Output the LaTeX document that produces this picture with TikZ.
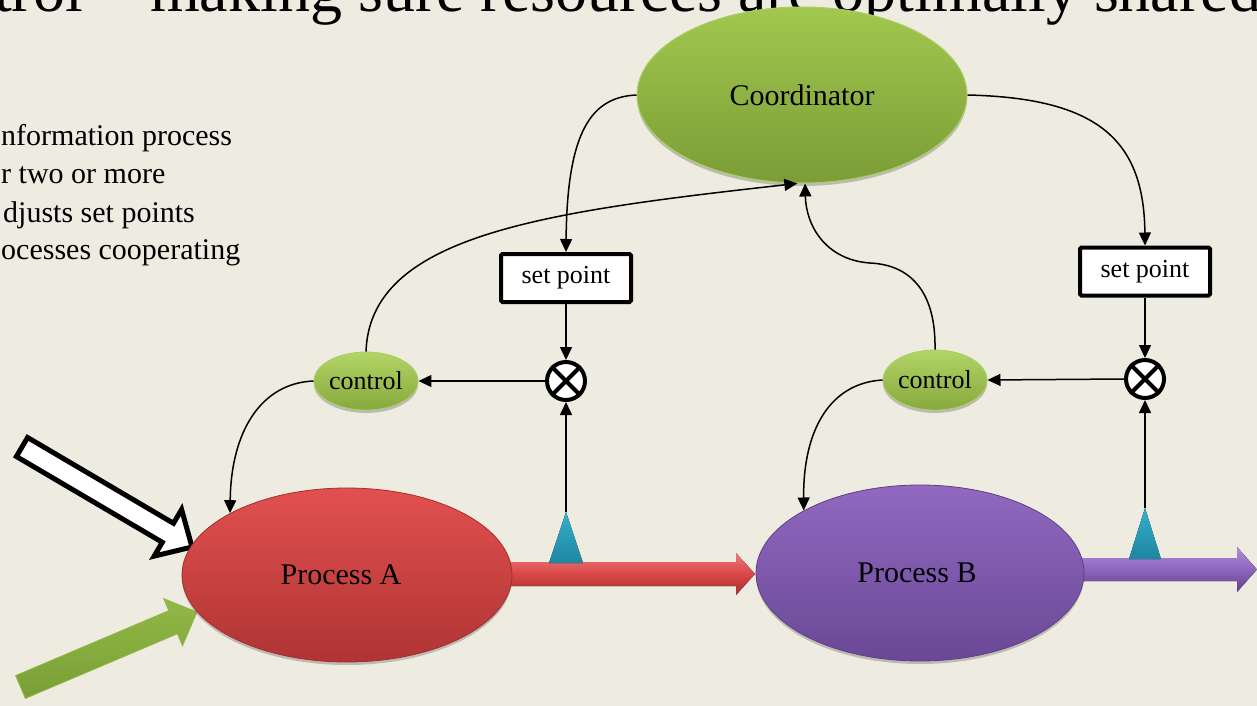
\documentclass[tikz,border=0pt]{standalone}
\usepackage{fontspec}
\setmainfont{Liberation Serif}
\usetikzlibrary{arrows.meta,shapes.geometric,shadows}

\definecolor{paper}{HTML}{EEEBE1}
\definecolor{greenhi}{HTML}{A2C84E}
\definecolor{greenlo}{HTML}{7B9C37}
\definecolor{greenrim}{HTML}{ABCF5F}
\definecolor{ctlhi}{HTML}{B3D466}
\definecolor{ctllo}{HTML}{86A93D}
\definecolor{redhi}{HTML}{E25050}
\definecolor{redlo}{HTML}{B03434}
\definecolor{redrim}{HTML}{A32E2E}
\definecolor{purphi}{HTML}{9169C0}
\definecolor{purplo}{HTML}{6A4896}
\definecolor{purprim}{HTML}{5E3F88}
\definecolor{barredhi}{HTML}{EE7A7A}
\definecolor{barredmid}{HTML}{D94747}
\definecolor{barredlo}{HTML}{A52F2F}
\definecolor{barpurphi}{HTML}{B08DDB}
\definecolor{barpurpmid}{HTML}{8C66BC}
\definecolor{barpurplo}{HTML}{5E3F88}
\definecolor{cyanhi}{HTML}{35B0CC}
\definecolor{cyanlo}{HTML}{1E86A1}
\definecolor{inhi}{HTML}{92B846}
\definecolor{inlo}{HTML}{7A9E36}

\newcommand{\titlesize}{\fontsize{64}{70}\selectfont}
\newcommand{\bodysize}{\fontsize{30}{36}\selectfont}
\newcommand{\labelsize}{\fontsize{26}{30}\selectfont}

\begin{document}
\begin{tikzpicture}[x=1pt,y=-1pt,
  conn/.style={line width=1.5pt,-{Triangle[length=13pt,width=12pt]}},
  softshadow/.style={drop shadow={shadow xshift=0pt,shadow yshift=-3pt,opacity=0.3,fill=black!70}},
  procblob/.style={ellipse,inner sep=0pt,softshadow,font=\bodysize},
  ctlblob/.style={ellipse,inner sep=0pt,softshadow,font=\labelsize,
    top color=ctlhi,bottom color=ctllo,draw=greenrim,line width=0.8pt,
    minimum width=95pt,minimum height=58pt},
  setbox/.style={rectangle,draw=black,line width=4pt,fill=white,rounded corners=1.5pt,
    font=\labelsize,minimum width=130pt,minimum height=48pt,inner sep=0pt},
  junction/.style={circle,draw=black,line width=4pt,fill=white,minimum size=38pt,inner sep=0pt},
  crossline/.style={line width=4pt},
  sensor/.style={top color=cyanhi,bottom color=cyanlo},
  plaintext/.style={anchor=base west,inner sep=0pt}]

% page and clipping
\useasboundingbox (0,0) rectangle (1257,706);
\fill[paper] (0,0) rectangle (1257,706);
\clip (0,0) rectangle (1257,706);

% heading and side text
\node[plaintext,font=\titlesize] (head1) at (-6,12) {trol};
\node[plaintext,font=\titlesize] (head2) at (150,12) {making sure resources are optimally shared};
\node[plaintext,font=\bodysize] (txt1) at (1,145) {nformation process};
\node[plaintext,font=\bodysize] (txt2) at (1,183) {r two or more};
\node[plaintext,font=\bodysize] (txt3) at (3,222) {djusts set points};
\node[plaintext,font=\bodysize] (txt4) at (1,259) {ocesses cooperating};

% flow bars between the processes
\fill[top color=barredhi,bottom color=barredlo,middle color=barredmid]
  (500,562) -- (736,562) -- (736,553) -- (755,574) -- (736,595) -- (736,586) -- (500,586) -- cycle;
\fill[top color=barpurphi,bottom color=barpurplo,middle color=barpurpmid]
  (1075,558) -- (1237,558) -- (1237,547) -- (1257,569.5) -- (1237,592) -- (1237,581) -- (1075,581) -- cycle;

% input arrows
\draw[line width=5pt,fill=white,line join=miter]
  (16.4,456.5) -- (27.6,437.5) -- (173.5,523.3) -- (181.6,509.5) -- (192,547)
  -- (154.2,556.1) -- (162.3,542.3) -- cycle;
\shade[top color=inhi,bottom color=inlo,draw=inhi,line width=0.8pt]
  (15.6,675.6) -- (168.8,610.6) -- (163.7,598.6) -- (197,612) -- (182.5,645.8)
  -- (177.4,633.8) -- (25.4,698.4) -- cycle;

% main nodes
\node[procblob,top color=greenhi,bottom color=greenlo,draw=greenrim,line width=1pt,
  minimum width=330pt,minimum height=176pt] (coord) at (802,95) {Coordinator};
\node[procblob,top color=redhi,bottom color=redlo,draw=redrim,line width=0.8pt,
  minimum width=330pt,minimum height=174pt] (pa) at (347,575) {\hspace*{-12pt}Process A};
\node[procblob,top color=purphi,bottom color=purplo,draw=purprim,line width=0.8pt,
  minimum width=328pt,minimum height=176pt] (pb) at (920,573) {\hspace*{-6pt}Process B};

\node[ctlblob] (ctlA) at (366,381) {control};
\node[ctlblob,minimum width=96pt,minimum height=60pt] (ctlB) at (935,380) {control};

\node[setbox] (setA) at (566,278) {set point};
\node[setbox] (setB) at (1145,271.5) {set point};

\node[junction] (jA) at (566,381) {};
\node[junction] (jB) at (1145,379) {};
\foreach \j in {jA,jB}{
  \draw[crossline] (\j.45) -- (\j.225);
  \draw[crossline] (\j.135) -- (\j.315);
}

% measuring points on the flow bars
\fill[sensor] (549,563) -- (566,512) -- (583,563) -- cycle;
\fill[sensor] (1129,559) -- (1145,508) -- (1161,559) -- cycle;
\coordinate (tipA) at (566,512);
\coordinate (tipB) at (1145,508);

% signal connectors
\draw[conn] (coord.west) .. controls (592,97) and (567,130) .. (setA.north);
\draw[conn] (coord.east) .. controls (1098,98) and (1144,140) .. (setB.north);
\draw[conn] (setA.south) -- (jA.north);
\draw[conn] (setB.south) -- (jB.north);
\draw[conn] (tipA) -- (jA.south);
\draw[conn] (tipB) -- (jB.south);
\draw[conn] (jA.west) -- (ctlA.east);
\draw[conn] (jB.west) -- (ctlB.east);
\draw[conn] (ctlA.north) .. controls (370,236) and (540,212) .. (coord.-93);
\draw[conn] (ctlB.north) .. controls (936,296) and (914,265) .. (870,263)
  .. controls (826,260) and (806,226) .. (coord.-88);
\draw[conn] (ctlA.west) .. controls (262,383) and (231,430) .. (pa.north west);
\draw[conn] (ctlB.west) .. controls (830,383) and (803,430) .. (pb.north west);
\end{tikzpicture}
\end{document}
